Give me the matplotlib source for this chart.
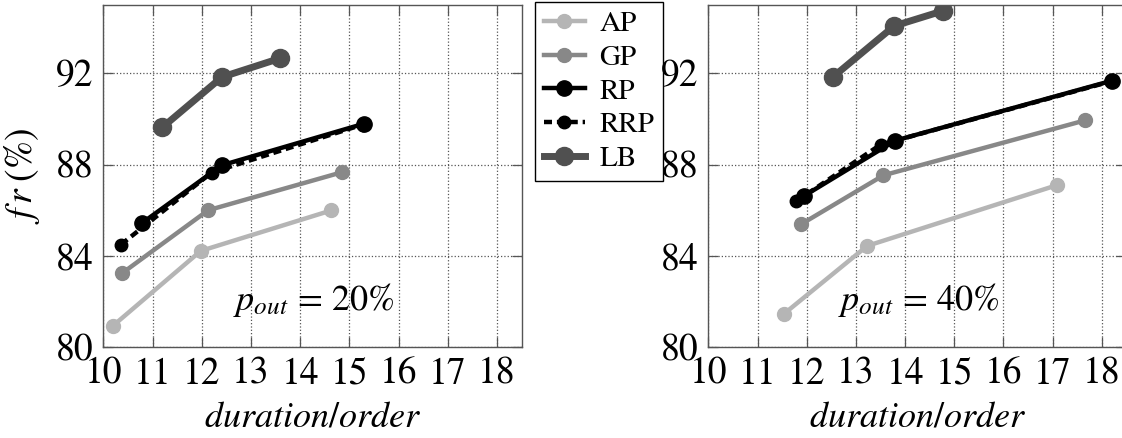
import matplotlib
matplotlib.use("Agg")
import matplotlib.pyplot as plt
import matplotlib.ticker as ticker

plt.rcParams['font.family'] = ['STIXGeneral', 'DejaVu Serif']
plt.rcParams['mathtext.fontset'] = 'stix'

# series names and styles order
names = ['AP', 'GP', 'RP', 'RRP', 'LB']

# p_out = 20%
x20_AP = [10.20, 11.98, 14.63]
y20_AP = [80.95, 84.22, 85.99]
x20_GP = [10.38, 12.13, 14.86]
y20_GP = [83.24, 86.00, 87.67]
x20_RP = [10.78, 12.41, 15.30]
y20_RP = [85.43, 87.97, 89.79]
x20_RRP = [10.36, 12.20, 15.27]
y20_RRP = [84.50, 87.65, 89.75]
x20_LB = [11.20, 12.41, 13.59]
y20_LB = [89.63, 91.83, 92.65]

# p_out = 40%
x40_AP = [11.53, 13.23, 17.09]
y40_AP = [81.45, 84.44, 87.10]
x40_GP = [11.88, 13.56, 17.65]
y40_GP = [85.38, 87.53, 89.93]
x40_RP = [11.94, 13.80, 18.20]
y40_RP = [86.62, 89.05, 91.67]
x40_RRP = [11.79, 13.50, 18.18]
y40_RRP = [86.40, 88.87, 91.64]
x40_LB = [12.53, 13.78, 14.77]
y40_LB = [91.83, 94.07, 94.73]

xticks = [10, 11, 12, 13, 14, 15, 16, 17, 18]
yticks = [80, 84, 88, 92]

styles = {
    'AP':  dict(color='#b5b5b5', lw=3.2, ls='-', marker='o', ms=10),
    'GP':  dict(color='#888888', lw=3.2, ls='-', marker='o', ms=10),
    'RP':  dict(color='black', lw=3.2, ls='-', marker='o', ms=11),
    'RRP': dict(color='black', lw=3.2, ls=(0, (1.8, 1.1)), marker='o', ms=9),
    'LB':  dict(color='#505050', lw=5.0, ls='-', marker='o', ms=13),
}

data20 = {'AP': (x20_AP, y20_AP), 'GP': (x20_GP, y20_GP), 'RP': (x20_RP, y20_RP),
          'RRP': (x20_RRP, y20_RRP), 'LB': (x20_LB, y20_LB)}
data40 = {'AP': (x40_AP, y40_AP), 'GP': (x40_GP, y40_GP), 'RP': (x40_RP, y40_RP),
          'RRP': (x40_RRP, y40_RRP), 'LB': (x40_LB, y40_LB)}

fig = plt.figure(figsize=(11.22, 4.38), dpi=100)
ax1 = fig.add_axes([0.0921, 0.2071, 0.3727, 0.7822])
ax2 = fig.add_axes([0.6313, 0.2071, 0.3727, 0.7822])

def setup(ax, data, label):
    handles = []
    for n in names:
        x, y = data[n]
        h, = ax.plot(x, y, label=n, **styles[n])
        handles.append(h)
    ax.set_xlim(10, 18.5)
    ax.set_ylim(80, 95)
    ax.xaxis.set_major_locator(ticker.FixedLocator(xticks))
    ax.yaxis.set_major_locator(ticker.FixedLocator(yticks))
    ax.grid(True, linestyle=':', color='#555555', linewidth=0.9)
    ax.tick_params(direction='in', top=True, right=True, length=7, width=0.9,
                   color='#555555', labelsize=27, pad=7)
    for s in ax.spines.values():
        s.set_color('#555555')
        s.set_linewidth(1.0)
    ax.set_xlabel(r'$duration/order$', fontsize=26, labelpad=7)
    ax.text(14.28, 82.05, label, fontsize=26, ha='center', va='center')
    return handles

handles = setup(ax1, data20, r'$p_{out}\,=\,20\%$')
setup(ax2, data40, r'$p_{out}\,=\,40\%$')
ax1.set_ylabel(r'$f\,r\;(\%)$', fontsize=27, labelpad=10)

leg = fig.legend(handles, names, loc='upper left', bbox_to_anchor=(535 / 1122, 1 - 2 / 438),
                 borderaxespad=0, fontsize=21, frameon=True, fancybox=False,
                 edgecolor='black', framealpha=1, handlelength=1.4, handletextpad=0.5,
                 labelspacing=0.25, borderpad=0.3)
leg.get_frame().set_linewidth(1.0)
leg.set_zorder(-1)

fig.savefig('out.png', dpi=100)
